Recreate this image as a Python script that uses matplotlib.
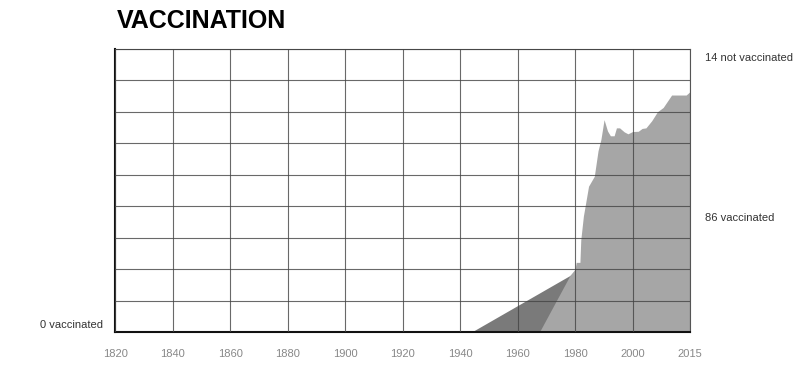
import numpy as np
import matplotlib
matplotlib.use("Agg")
import matplotlib.pyplot as plt

tick_years = [1820, 1840, 1860, 1880, 1900, 1920, 1940, 1960, 1980, 2000, 2015]
tick_labels = ["1820", "1840", "1860", "1880", "1900", "1920", "1940", "1960", "1980", "2000", "2015"]

early_years = [1944, 1980]
early_values = [0, 21]

years = [1967.6, 1978.3, 1980, 1980.4, 1981.7, 1982.0, 1982.9, 1984.7, 1986.7, 1988, 1989,
         1990.1, 1991.3, 1992.3, 1993.6, 1994.4, 1995.5, 1997.1, 1998.4, 2000, 2001.5,
         2002.5, 2003.5, 2005, 2006.5, 2008, 2010.2, 2014, 2015]
values = [0, 20.1, 22.2, 24.6, 24.6, 32.6, 40.9, 51.5, 55, 64, 68,
          75, 71, 69.3, 69.3, 72.1, 72.1, 70.7, 70, 70.8, 70.9,
          71.9, 72.1, 74.6, 77.8, 79.3, 83.7, 83.7, 84.9]

pos = np.arange(len(tick_years), dtype=float)
tick_arr = np.array(tick_years, dtype=float)

def fwd(x):
    return np.interp(x, tick_arr, pos)

def inv(p):
    return np.interp(p, pos, tick_arr)

fig = plt.figure(figsize=(8, 3.76), dpi=100)
ax = fig.add_axes([0.144, 0.117, 0.7185, 0.753])
ax.set_xscale('function', functions=(fwd, inv))
ax.set_xlim(1820, 2015)
ax.set_ylim(0, 100)

ax.fill_between(early_years, early_values, 0, color="#7a7a7a", lw=0, zorder=1)
ax.fill_between(years, values, 0, color="#a6a6a6", lw=0, zorder=2)

ax.set_xticks(tick_years)
ax.set_xticklabels(tick_labels)
ax.set_yticks(np.linspace(0, 100, 10))
ax.set_yticklabels([])
ax.grid(True, color="#444444", lw=0.8, alpha=0.8, zorder=3)
ax.set_axisbelow(False)
ax.tick_params(axis='both', length=0, pad=12, labelsize=8, labelcolor="#888888")
for lbl in ax.get_xticklabels():
    lbl.set_fontfamily("Liberation Sans")

for s in ["top", "right"]:
    ax.spines[s].set_color("#555555")
    ax.spines[s].set_linewidth(0.8)
for s in ["left", "bottom"]:
    ax.spines[s].set_color("#111111")
    ax.spines[s].set_linewidth(1.5)

fig.text(0.146, 0.925, "VACCINATION", fontsize=18, fontweight="bold",
         family="Liberation Sans", color="#000000", va="baseline")
fig.text(0.129, 0.128, "0 vaccinated", fontsize=8, family="Liberation Sans",
         color="#333333", ha="right", va="baseline")
fig.text(0.881, 0.411, "86 vaccinated", fontsize=8, family="Liberation Sans",
         color="#333333", ha="left", va="baseline")
fig.text(0.881, 0.839, "14 not vaccinated", fontsize=8, family="Liberation Sans",
         color="#333333", ha="left", va="baseline")

fig.savefig("out.png", dpi=100)
